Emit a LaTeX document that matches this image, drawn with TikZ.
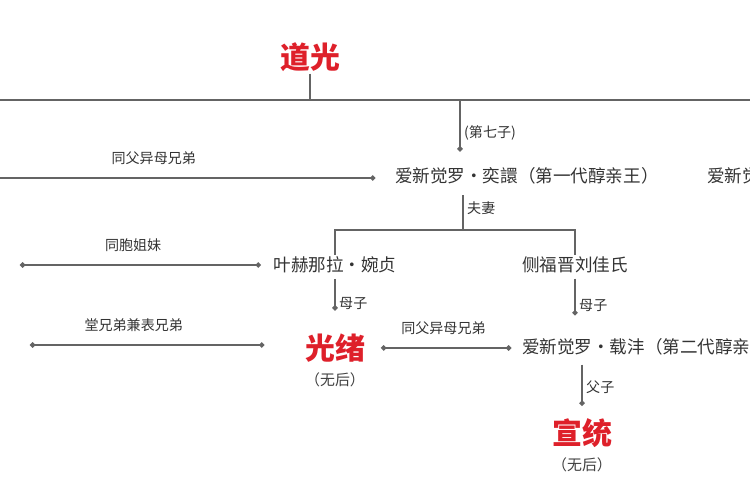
\documentclass[tikz,border=0pt]{standalone}
\usepackage{fontspec}
\setmainfont{Noto Sans CJK SC}
\usetikzlibrary{positioning,arrows.meta}
\definecolor{kingred}{RGB}{222,32,42}
\definecolor{linegray}{RGB}{100,100,100}

\begin{document}
\begin{tikzpicture}[x=0.02cm,y=-0.02cm,node distance=1.66cm,on grid,auto,
    person/.style={inner sep=1pt,font=\fontsize{10}{12}\selectfont,text=black!80},
    king/.style={inner sep=1pt,font=\fontsize{17}{20}\selectfont\bfseries,text=kingred},
    nokid/.style={inner sep=1pt,font=\fontsize{8.5}{10}\selectfont,text=black!75},
    rel/.style={inner sep=2pt,font=\fontsize{8}{10}\selectfont,text=black!80},
    link/.style={draw=linegray,line width=0.8pt},
    tip/.style={link,-{Circle[length=3pt]}},
    dots/.style={link,{Circle[length=3pt]}-{Circle[length=3pt]}}]
      \useasboundingbox (0,0) rectangle (750,500);
      \clip (0,0) rectangle (750,500);

      \node[king]               (dg) at (310,57)  {道光};
      \node[person,anchor=west] (yx) at (393,176) {爱新觉罗·奕譞（第一代醇亲王）};
      \node[person,anchor=west] (yh) at (705,176) {爱新觉罗};
      \node[person]             (wz) at (335,265) {叶赫那拉·婉贞};
      \node[person]             (lj) at (575,265) {侧福晋刘佳氏};
      \node[king]               (gx) [below=of wz] {光绪};
      \node[nokid]              (gxn) [below=0.64cm of gx] {（无后）};
      \node[person,anchor=west] (zf) at (520,347) {爱新觉罗·载沣（第二代醇亲王）};
      \node[king]               (xt) at (582,433) {宣统};
      \node[nokid]              (xtn) [below=0.64cm of xt] {（无后）};

      \coordinate (bl) at (-10,100);
      \coordinate (br) at (760,100);
      \coordinate (c7) at (460,100);
      \coordinate (fq) at (463,230);
      \coordinate (s1) at (-50,178);
      \coordinate (s2) at (20,265);
      \coordinate (s3) at (30,345);

      \draw[link] (dg) -- (dg |- bl);
      \draw[link] (bl) -- (br);
      \draw[tip,shorten >=8pt] (c7) -- node[rel] {(第七子)} (c7 |- yx.north);
      \draw[tip,shorten >=10pt] (s1) -- node[rel,above=5pt,pos=0.46] {同父异母兄弟} (s1 -| yx.west);
      \draw[link,shorten <=5pt] (yx.south -| fq) -- node[rel] {夫妻} (fq);
      \draw[link] (wz.north) -- (wz |- fq) -- (lj |- fq) -- (lj.north);
      \draw[dots,shorten >=6pt] (s2) -- node[rel,above=5pt,pos=0.45] {同胞姐妹} (s2 -| wz.west);
      \draw[tip,shorten <=2pt,shorten >=12pt] (wz.south) -- node[rel] {母子} (wz.south |- gx.north);
      \draw[dots,shorten >=22pt] (s3) -- node[rel,above=5pt,pos=0.38] {堂兄弟兼表兄弟} (s3 -| gx.west);
      \draw[tip,shorten <=2pt,shorten >=12pt] (lj.south) -- node[rel] {母子} (lj.south |- zf.north);
      \draw[dots,shorten <=8pt,shorten >=5pt] (gx.east) -- node[rel,above=5pt] {同父异母兄弟} (gx.east -| zf.west);
      \draw[tip,shorten <=4pt,shorten >=6pt] (zf.south -| xt) -- node[rel] {父子} (xt.north);
    \end{tikzpicture}
\end{document}
